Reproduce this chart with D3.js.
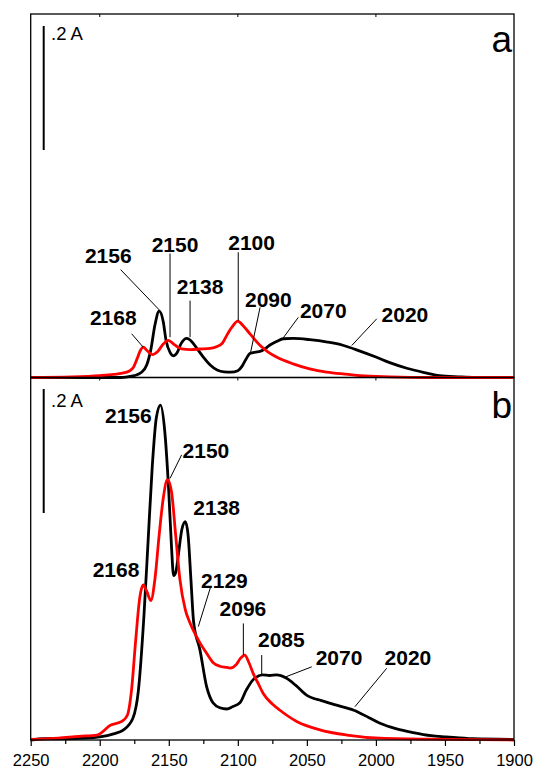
<!DOCTYPE html>
<html><head><meta charset="utf-8">
<script src="https://cdn.jsdelivr.net/npm/d3@7"></script>
<style>body{margin:0;background:#fff}svg{display:block}</style>
</head><body>
<script>
// ---------- data (wavenumber cm-1, absorbance) ----------
const topBlack = [[2250,0],[2200,0],[2185,0],[2180,0.001],[2175,0.003],[2170,0.008],[2166,0.02],[2163,0.045],[2160,0.085],[2157,0.107],[2154,0.09],[2152,0.06],[2149,0.04],[2146.7,0.035],[2144,0.04],[2141,0.055],[2137,0.063],[2133,0.057],[2129,0.045],[2125,0.033],[2120,0.02],[2115,0.012],[2110,0.009],[2105,0.0086],[2100,0.011],[2097,0.018],[2094,0.03],[2091,0.039],[2087,0.041],[2084,0.042],[2080,0.047],[2077,0.052],[2072,0.058],[2067,0.0625],[2060,0.063],[2048,0.061],[2035,0.057],[2024,0.052],[2012,0.043],[2000,0.033],[1990,0.024],[1977,0.0145],[1965,0.008],[1954,0.003],[1940,0.001],[1928,0],[1900,0]];
const topRed = [[2250,0],[2220,0.001],[2200,0.003],[2190,0.005],[2180.5,0.0086],[2176,0.015],[2173,0.03],[2170.5,0.044],[2168.5,0.049],[2166,0.044],[2162,0.037],[2158,0.042],[2154,0.054],[2150.4,0.06],[2146,0.053],[2140.7,0.046],[2134,0.045],[2127.4,0.046],[2120,0.047],[2115,0.05],[2111,0.056],[2108,0.068],[2104,0.082],[2100,0.091],[2096,0.083],[2091,0.07],[2084,0.052],[2078,0.041],[2072,0.033],[2060,0.022],[2048,0.014],[2035.7,0.0086],[2020,0.005],[2011.6,0.003],[1990,0.001],[1960,0],[1900,0]];
const botBlack = [[2250,0],[2240,0.002],[2230,0.002],[2210,0.003],[2200,0.005],[2190,0.01],[2183,0.016],[2176,0.035],[2172,0.08],[2168,0.2],[2165,0.32],[2162,0.44],[2159,0.52],[2156,0.54],[2153,0.5],[2150,0.4],[2148,0.31],[2146.5,0.265],[2145,0.27],[2143,0.3],[2140.5,0.34],[2138,0.352],[2136,0.33],[2134,0.26],[2132,0.19],[2127.4,0.145],[2122.6,0.086],[2118,0.06],[2113,0.052],[2108,0.05],[2103.6,0.054],[2098.5,0.06],[2094,0.08],[2089,0.097],[2082,0.105],[2077,0.104],[2072,0.105],[2065,0.1],[2058,0.088],[2050,0.072],[2045,0.067],[2040,0.064],[2030,0.057],[2016,0.048],[2005,0.036],[1997,0.027],[1985,0.018],[1973,0.012],[1960,0.007],[1949,0.005],[1930,0.002],[1900,0.001]];
const botRed = [[2250,0.001],[2230,0.003],[2215,0.006],[2202,0.008],[2192,0.024],[2184,0.03],[2180,0.04],[2177,0.08],[2174,0.16],[2171,0.23],[2168.5,0.25],[2166,0.24],[2163,0.225],[2160,0.26],[2157,0.33],[2154,0.39],[2151,0.42],[2148,0.4],[2145,0.33],[2142,0.26],[2138,0.21],[2134.7,0.189],[2130,0.167],[2127,0.155],[2122.6,0.14],[2118,0.125],[2113,0.119],[2108,0.117],[2105.7,0.116],[2101,0.122],[2098,0.132],[2095,0.137],[2092,0.125],[2088.8,0.107],[2085,0.09],[2081.6,0.075],[2075,0.058],[2069.5,0.048],[2057,0.0295],[2040,0.016],[2021,0.008],[1997,0.003],[1950,0.001],[1900,0]];

const xTicksMajor = [2250,2200,2150,2100,2050,2000,1950,1900];
const xTicksMinor = [2225,2175,2125,2075,2025,1975,1925];
const panelLetters = ["a","b"];
const scaleBarLabel = ".2 A";
const scaleBarValue = 0.2;

// annotations: text, text anchor point [w, A], optional leader [w1,A1,w2,A2]
const topNotes = [
  {t:"2156", at:[2193.8,0.184], ln:[2184.9,0.174,2156.9,0.109]},
  {t:"2150", at:[2145.5,0.202], ln:[2149.1,0.2,2149.1,0.065]},
  {t:"2138", at:[2127.4,0.135], ln:[2134.6,0.124,2134.6,0.065]},
  {t:"2100", at:[2090,0.205], ln:[2099.7,0.202,2099.7,0.092]},
  {t:"2090", at:[2077.9,0.113], ln:[2083.9,0.113,2090.7,0.041]},
  {t:"2070", at:[2038.1,0.0956], ln:[2056.2,0.097,2067.1,0.064]},
  {t:"2020", at:[1979,0.089], ln:[1999.4,0.0947,2017.5,0.0516]},
  {t:"2168", at:[2190.2,0.084], ln:[2176.9,0.0705,2168.5,0.0489]}
];
const botNotes = [
  {t:"2156", at:[2179.3,0.511]},
  {t:"2150", at:[2123.1,0.455], ln:[2140.7,0.46,2149.1,0.422]},
  {t:"2138", at:[2115.3,0.363]},
  {t:"2168", at:[2188.2,0.263]},
  {t:"2129", at:[2109.7,0.245], ln:[2119.7,0.247,2128.6,0.183]},
  {t:"2096", at:[2096.3,0.2], ln:[2096,0.188,2096,0.137]},
  {t:"2085", at:[2068.5,0.1495], ln:[2082.7,0.137,2082.7,0.105]},
  {t:"2070", at:[2026.7,0.121], ln:[2046.5,0.118,2065.1,0.102]},
  {t:"2020", at:[1976.8,0.121], ln:[1992.2,0.1156,2015.2,0.0537]}
];

// ---------- layout ----------
const W = 536, H = 773;
const L = 30.7, R = 514;
const topY0 = 14, midY = 377.5, botY1 = 740;
const barPx = 124; // pixel length of 0.2 A

const svg = d3.select("body").append("svg").attr("width", W).attr("height", H);
const x = d3.scaleLinear().domain([2250,1900]).range([L, R]);
const yTop = d3.scaleLinear().domain([0, scaleBarValue]).range([midY, midY - barPx]);
const yBot = d3.scaleLinear().domain([0, scaleBarValue]).range([botY1, botY1 - barPx]);

const FONT = "'Liberation Sans', Arial, Helvetica, sans-serif";

function panel(yScale, black, red, notes, letter, y0, y1, barTop, labelY, letterY) {
  const g = svg.append("g");
  const line = d3.line().x(d => x(d[0])).y(d => yScale(d[1])).curve(d3.curveMonotoneX);
  g.append("path").datum(black).attr("d", line).attr("fill","none").attr("stroke","#000").attr("stroke-width",2.8).attr("stroke-linejoin","round");
  g.append("path").datum(red).attr("d", line).attr("fill","none").attr("stroke","#ff0000").attr("stroke-width",2.8).attr("stroke-linejoin","round");
  notes.forEach(n => {
    if (n.ln) {
      g.append("line").attr("x1", x(n.ln[0])).attr("y1", yScale(n.ln[1]))
        .attr("x2", x(n.ln[2])).attr("y2", yScale(n.ln[3]))
        .attr("stroke","#000").attr("stroke-width",1);
    }
    g.append("text").attr("x", x(n.at[0])).attr("y", yScale(n.at[1]))
      .attr("text-anchor","middle").attr("font-family",FONT).attr("font-weight","bold")
      .attr("font-size",21).attr("fill","#000").text(n.t);
  });
  const bx = 43.7;
  g.append("line").attr("x1",bx).attr("x2",bx).attr("y1",barTop).attr("y2",barTop + (yScale(0)-yScale(scaleBarValue)))
    .attr("stroke","#000").attr("stroke-width",2);
  g.append("text").attr("x",51).attr("y",labelY).attr("font-family",FONT).attr("font-size",18.5).text(scaleBarLabel);
  g.append("text").attr("x",512).attr("y",letterY).attr("text-anchor","end").attr("font-family",FONT).attr("font-size",37).text(letter);
  g.append("rect").attr("x",L).attr("y",y0).attr("width",R-L).attr("height",y1-y0)
    .attr("fill","none").attr("stroke","#000").attr("stroke-width",1.3);
}

panel(yTop, topBlack, topRed, topNotes, panelLetters[0], topY0, midY, 26, 40, 52);
panel(yBot, botBlack, botRed, botNotes, panelLetters[1], midY, botY1, 389, 407, 418);

const ax = svg.append("g").attr("transform", `translate(0,${botY1})`);
ax.call(d3.axisBottom(x).tickValues(xTicksMajor).tickSize(6).tickSizeOuter(0).tickPadding(8).tickFormat(d3.format("d")));
ax.select(".domain").remove();
ax.selectAll("text").attr("font-family",FONT).attr("font-size",16.5).attr("fill","#000");
ax.selectAll("line").attr("stroke","#000").attr("stroke-width",1.2);
const axm = svg.append("g").attr("transform", `translate(0,${botY1})`);
axm.call(d3.axisBottom(x).tickValues(xTicksMinor).tickSize(4).tickFormat(""));
axm.select(".domain").remove();
axm.selectAll("line").attr("stroke","#000").attr("stroke-width",1.2);

[2200,2100,2000].forEach(v => {
  svg.append("line").attr("x1",x(v)).attr("x2",x(v)).attr("y1",topY0).attr("y2",topY0+3).attr("stroke","#000");
  svg.append("line").attr("x1",x(v)).attr("x2",x(v)).attr("y1",midY).attr("y2",midY+3).attr("stroke","#000");
});
</script>
</body></html>
